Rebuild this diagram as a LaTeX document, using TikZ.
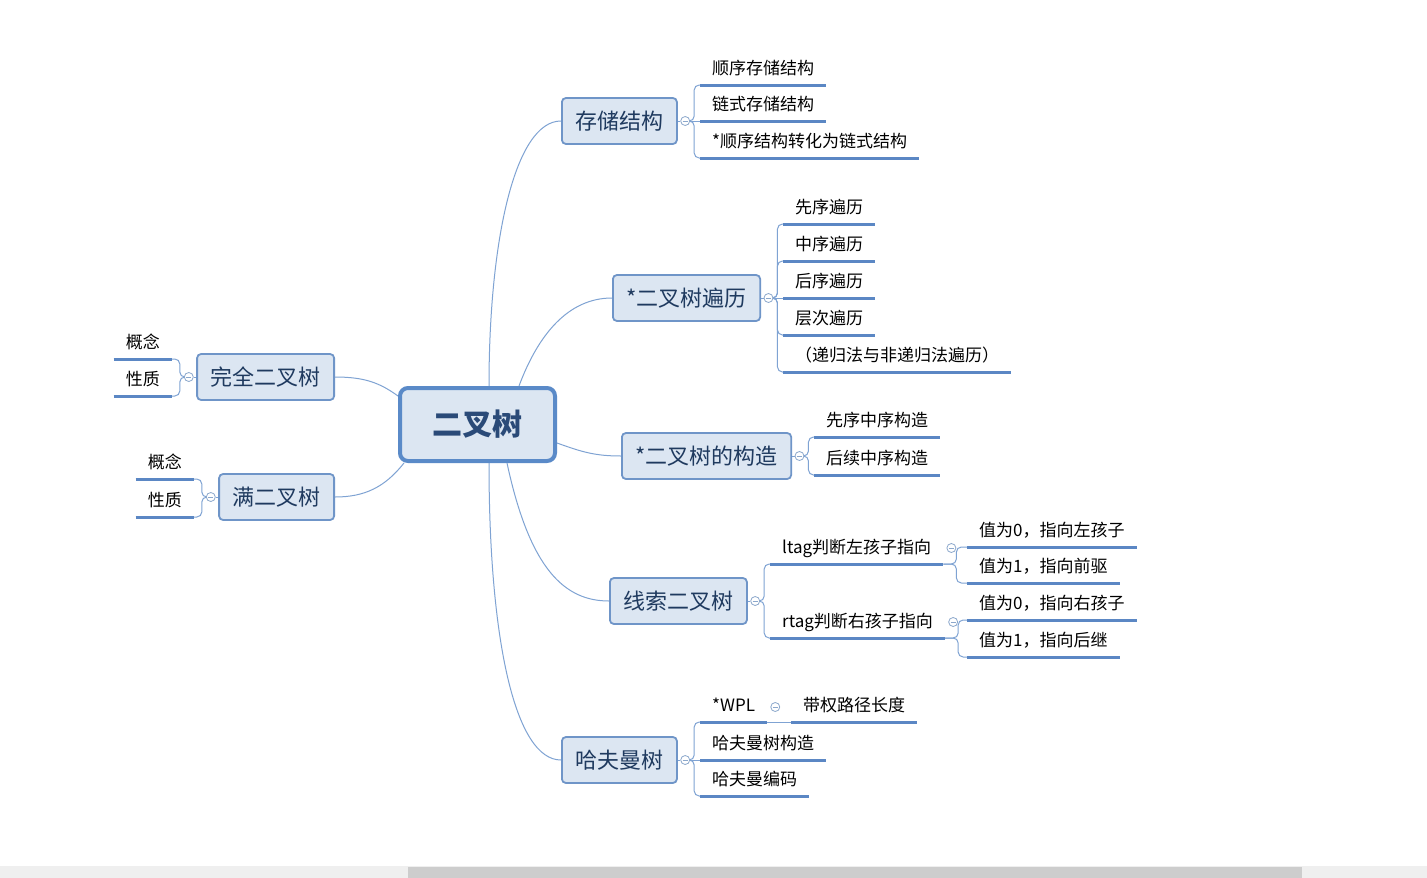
\documentclass[tikz,border=0pt]{standalone}
\usepackage{fontspec}
\setmainfont{Noto Sans CJK SC}
\usetikzlibrary{positioning,calc}
\definecolor{conn}{HTML}{7FA3D3}
\definecolor{uline}{HTML}{5B87C4}
\definecolor{boxfill}{HTML}{DCE6F2}
\definecolor{boxdraw}{HTML}{6F95C8}
\definecolor{rootdraw}{HTML}{5A8AC8}
\definecolor{topictext}{HTML}{1F3A5F}
\definecolor{roottext}{HTML}{2A4A78}
\definecolor{colldraw}{HTML}{8CA8CC}
\definecolor{track}{HTML}{EFEFEF}
\definecolor{thumb}{HTML}{CDCDCD}
\pgfdeclarelayer{back}\pgfdeclarelayer{bg}\pgfsetlayers{back,bg,main}
\tikzset{
 rootbox/.style={draw=rootdraw, line width=4pt, fill=boxfill, rounded corners=8pt,
   minimum width=155pt, minimum height=73pt, inner sep=0pt,
   font=\fontsize{30}{36}\selectfont\bfseries, text=roottext},
 topic/.style={draw=boxdraw, line width=1.8pt, fill=boxfill, rounded corners=4pt,
   minimum height=46pt, inner xsep=13.5pt, inner ysep=0pt,
   font=\fontsize{22}{26}\selectfont, text=topictext},
 ulstyle/.style={draw=uline, line width=3pt},
 leaf/.style={inner xsep=12pt, inner ysep=0pt, text height=15pt, text depth=10pt,
   font=\fontsize{17}{20}\selectfont, text=black,
   append after command={(\tikzlastnode.south west) edge[ulstyle] (\tikzlastnode.south east)}},
 collapse/.style={circle, draw=colldraw, line width=0.8pt, fill=white, minimum size=9pt, inner sep=0pt,
   path picture={\draw[colldraw, line width=0.8pt]
     ($(path picture bounding box.center)+(-2.5,0)$) -- ($(path picture bounding box.center)+(2.5,0)$);}},
 link/.style={draw=conn, line width=1pt},
 bracket/.style={draw=conn, line width=1pt, rounded corners=5pt},
}
\begin{document}
\begin{tikzpicture}[x=1pt,y=-1pt]
\useasboundingbox (0,0) rectangle (1427,878);
\begin{pgfonlayer}{back}
\fill[white] (0,0) rectangle (1427,878);
\end{pgfonlayer}
% scrollbar
\fill[track] (0,866) rectangle (1427,878);
\fill[thumb] (408,867) rectangle (1302,878);

% root
\node[rootbox] (root) at (477.5,424.5) {二叉树};

% topics
\node[topic, anchor=west] (t1) at (561,121) {存储结构};
\node[topic, anchor=west] (t2) at (612,298) {*二叉树遍历};
\node[topic, anchor=west] (t3) at (621,456) {*二叉树的构造};
\node[topic, anchor=west] (t4) at (609,601) {线索二叉树};
\node[topic, anchor=west] (t5) at (561,760) {哈夫曼树};
\node[topic, anchor=east] (t6) at (335,377) {完全二叉树};
\node[topic, anchor=east] (t7) at (335,497) {满二叉树};

% collapse markers
\node[collapse, right=2.5pt of t1] (c1) {};
\node[collapse, right=2.5pt of t2] (c2) {};
\node[collapse, right=2.5pt of t3] (c3) {};
\node[collapse, right=2.5pt of t4] (c4) {};
\node[collapse, right=2.5pt of t5] (c5) {};
\node[collapse, left=2.5pt of t6] (c6) {};
\node[collapse, left=2.5pt of t7] (c7) {};

% leaves of 存储结构
\node[leaf, anchor=south west] (l11) at (700,85) {顺序存储结构};
\node[leaf, anchor=south west] (l12) at (700,121) {链式存储结构};
\node[leaf, anchor=south west] (l13) at (700,158) {*顺序结构转化为链式结构};

% leaves of 遍历
\node[leaf, anchor=south west] (l21) at (783,224) {先序遍历};
\node[leaf, anchor=south west] (l22) at (783,261) {中序遍历};
\node[leaf, anchor=south west] (l23) at (783,298) {后序遍历};
\node[leaf, anchor=south west] (l24) at (783,335) {层次遍历};
\node[leaf, anchor=south west] (l25) at (783,372) {（递归法与非递归法遍历）};

% leaves of 构造
\node[leaf, anchor=south west] (l31) at (814,437) {先序中序构造};
\node[leaf, anchor=south west] (l32) at (814,475) {后续中序构造};

% leaves of 线索二叉树
\node[leaf, anchor=south west] (l41) at (770,564) {ltag判断左孩子指向};
\node[leaf, anchor=south west] (l42) at (770,638) {rtag判断右孩子指向};
\node[collapse] (c41) at ($(l41.south east)+(8,-16)$) {};
\node[collapse] (c42) at ($(l42.south east)+(8,-16)$) {};
\node[leaf, anchor=south west] (l411) at (967,547) {值为0，指向左孩子};
\node[leaf, anchor=south west] (l412) at (967,583) {值为1，指向前驱};
\node[leaf, anchor=south west] (l421) at (967,620) {值为0，指向右孩子};
\node[leaf, anchor=south west] (l422) at (967,657) {值为1，指向后继};

% leaves of 哈夫曼树
\node[leaf, anchor=south west] (l51) at (700,722) {*WPL};
\node[collapse] (c51) at ($(l51.south east)+(8,-15)$) {};
\node[leaf, anchor=south west] (l511) at (791,722) {带权路径长度};
\node[leaf, anchor=south west] (l52) at (700,760) {哈夫曼树构造};
\node[leaf, anchor=south west] (l53) at (700,796) {哈夫曼编码};

% left leaves
\node[leaf, anchor=south east] (l61) at (172,359) {概念};
\node[leaf, anchor=south east] (l62) at (172,396) {性质};
\node[leaf, anchor=south east] (l71) at (194,479) {概念};
\node[leaf, anchor=south east] (l72) at (194,517) {性质};

\begin{pgfonlayer}{bg}
% root to topics
\draw[link] ([xshift=11.5pt]root.north) .. controls (489,240) and (515,121) .. (t1.west);
\draw[link] ([xshift=41.5pt]root.north) .. controls (538,335) and (568,298) .. (t2.west);
\draw[link] ([yshift=-18.5pt]root.east) .. controls (582,452) and (595,456) .. (t3.west);
\draw[link] ([xshift=29.5pt]root.south) .. controls (530,570) and (565,601) .. (t4.west);
\draw[link] ([xshift=11.5pt]root.south) .. controls (489,640) and (515,760) .. (t5.west);
\draw[link] ([yshift=28.5pt]root.west) .. controls (380,383) and (365,377) .. (t6.east);
\draw[link] ([xshift=6pt]root.south west) .. controls (385,487) and (365,497) .. (t7.east);
% topic to markers
\foreach \t/\c in {t1/c1,t2/c2,t3/c3,t4/c4,t5/c5,t6/c6,t7/c7} \draw[link] (\t) -- (\c);
% brackets
\draw[bracket] (c1.center) -- ++(9,0) |- (l11.south west);
\draw[link] (c1.center) -- (l12.south west);
\draw[bracket] (c1.center) -- ++(9,0) |- (l13.south west);
\draw[bracket] (c2.center) -- ++(9,0) |- (l21.south west);
\draw[bracket] (c2.center) -- ++(9,0) |- (l22.south west);
\draw[link] (c2.center) -- (l23.south west);
\draw[bracket] (c2.center) -- ++(9,0) |- (l24.south west);
\draw[bracket] (c2.center) -- ++(9,0) |- (l25.south west);
\draw[bracket] (c3.center) -- ++(9,0) |- (l31.south west);
\draw[bracket] (c3.center) -- ++(9,0) |- (l32.south west);
\draw[bracket] (c4.center) -- ++(9,0) |- (l41.south west);
\draw[bracket] (c4.center) -- ++(9,0) |- (l42.south west);
\draw[bracket] (l41.south east) -- ++(13,0) |- (l411.south west);
\draw[bracket] (l41.south east) -- ++(13,0) |- (l412.south west);
\draw[bracket] (l42.south east) -- ++(13,0) |- (l421.south west);
\draw[bracket] (l42.south east) -- ++(13,0) |- (l422.south west);
\draw[bracket] (c5.center) -- ++(9,0) |- (l51.south west);
\draw[link] (c5.center) -- (l52.south west);
\draw[bracket] (c5.center) -- ++(9,0) |- (l53.south west);
\draw[link] (l51.south east) -- (l511.south west);
\draw[bracket] (c6.center) -- ++(-9,0) |- (l61.south east);
\draw[bracket] (c6.center) -- ++(-9,0) |- (l62.south east);
\draw[bracket] (c7.center) -- ++(-9,0) |- (l71.south east);
\draw[bracket] (c7.center) -- ++(-9,0) |- (l72.south east);
\end{pgfonlayer}
\end{tikzpicture}
\end{document}
